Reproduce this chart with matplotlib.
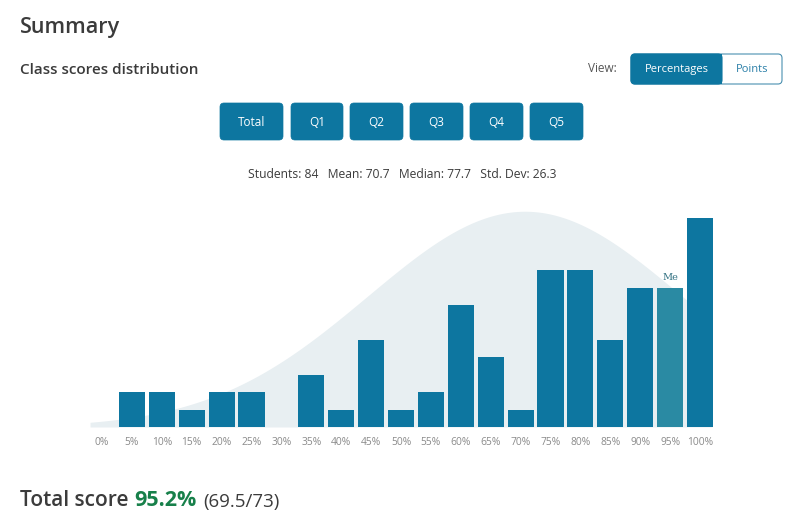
import numpy as np
import matplotlib
matplotlib.use("Agg")
import matplotlib.pyplot as plt
import matplotlib.transforms as mtrans
from matplotlib.patches import FancyBboxPatch

plt.rcParams['font.family'] = ['Open Sans', 'DejaVu Sans']

# ---- data ----
bins = ["0%", "5%", "10%", "15%", "20%", "25%", "30%", "35%", "40%", "45%", "50%",
        "55%", "60%", "65%", "70%", "75%", "80%", "85%", "90%", "95%", "100%"]
counts = [0, 2, 2, 1, 2, 2, 0, 3, 1, 5, 1, 2, 7, 4, 1, 9, 9, 5, 8, 8, 12]
me_bin = "95%"
n_students = 84
mean_pct = 70.7
median_pct = 77.7
std_pct = 26.3
curve_peak = 12.4
buttons = ["Total", "Q1", "Q2", "Q3", "Q4", "Q5"]
total_pct = "95.2%"
total_pts = "(69.5/73)"

W, H = 800, 527
fig = plt.figure(figsize=(W / 100, H / 100), dpi=100)

ov = fig.add_axes([0, 0, 1, 1])
ov.set_xlim(0, W)
ov.set_ylim(H, 0)
ov.axis("off")

BLUE = "#0d76a0"
ME = "#2a8aa3"
DARK = "#3b3b3b"

ov.text(20, 27, "Summary", fontsize=15.5, color=DARK, va="center", ha="left",
        fontweight="semibold")
ov.text(20, 70, "Class scores distribution", fontsize=11, color=DARK, va="center",
        ha="left", fontweight="semibold")
ov.text(617, 69, "View:", fontsize=8.5, color="#555555", va="center", ha="right")

tog = FancyBboxPatch((631, 54), 151, 30, boxstyle="round,pad=0,rounding_size=4",
                     fc="white", ec="#4a90b0", lw=0.8)
ov.add_patch(tog)
tog2 = FancyBboxPatch((631, 54), 91, 30, boxstyle="round,pad=0,rounding_size=4",
                      fc=BLUE, ec=BLUE, lw=0.8)
ov.add_patch(tog2)
ov.add_patch(plt.Rectangle((712, 54), 10, 30, fc=BLUE, ec="none"))
ov.text(676.5, 69.5, "Percentages", fontsize=8, color="white", ha="center", va="center")
ov.text(752, 69.5, "Points", fontsize=8, color="#2a7fa8", ha="center", va="center")

bx = [(220, 283), (291, 343), (350, 403), (410, 463), (470, 523), (530, 583)]
for (x0, x1), lab in zip(bx, buttons):
    p = FancyBboxPatch((x0, 103), x1 - x0, 37, boxstyle="round,pad=0,rounding_size=4",
                       fc=BLUE, ec=BLUE, lw=0.5)
    ov.add_patch(p)
    ov.text((x0 + x1) / 2, 122, lab, fontsize=8.5, color="white", ha="center", va="center")

ov.text(402, 174, f"Students: {n_students}   Mean: {mean_pct}   Median: {median_pct}   Std. Dev: {std_pct}",
        fontsize=8.7, color=DARK, ha="center", va="center")

# total score
blend = mtrans.blended_transform_factory(mtrans.IdentityTransform(), ov.transData)
t1 = ov.text(20, 501, "Total score", fontsize=15, color=DARK, ha="left", va="center",
             fontweight="semibold")
fig.canvas.draw()
r = fig.canvas.get_renderer()
bb = t1.get_window_extent(r)
t2 = ov.text(bb.x1 + 6, 501, total_pct, fontsize=15.5, color="#17804a", fontweight="bold",
             ha="left", va="center", transform=blend)
bb2 = t2.get_window_extent(r)
ov.text(bb2.x1 + 6, 502, total_pts, fontsize=13.5, color=DARK, ha="left", va="center",
        transform=blend)

# chart axes
unit = 17.4
x0px, x1px = 87.05, 714.95
ybase = 427
ax = fig.add_axes([x0px / W, (H - ybase) / H, (x1px - x0px) / W, 13 * unit / H])
ax.set_xlim(-0.5, 20.5)
ax.set_ylim(0, 13)
idx = np.arange(len(bins))
xs = np.linspace(-0.4, 20.4, 400)
mu = mean_pct / 5
sd = std_pct / 5
ys = curve_peak * np.exp(-0.5 * ((xs - mu) / sd) ** 2)
ax.fill_between(xs, 0, ys, color="#e8eff2", lw=0, zorder=1)
colors = [ME if b == me_bin else BLUE for b in bins]
ax.bar(idx, counts, width=0.87, color=colors, zorder=2)
mi = bins.index(me_bin)
ax.text(mi, counts[mi] + 0.35, "Me", fontsize=7, family="DejaVu Serif", color="#2e6f80",
        ha="center", va="bottom", zorder=3)
ax.set_xticks(idx)
ax.set_xticklabels(bins, fontsize=7.4, color="#8a8a8a")
ax.tick_params(axis="x", length=0, pad=7)
ax.set_yticks([])
for s in ax.spines.values():
    s.set_visible(False)
ax.patch.set_alpha(0)

fig.savefig("out.png", dpi=100)
